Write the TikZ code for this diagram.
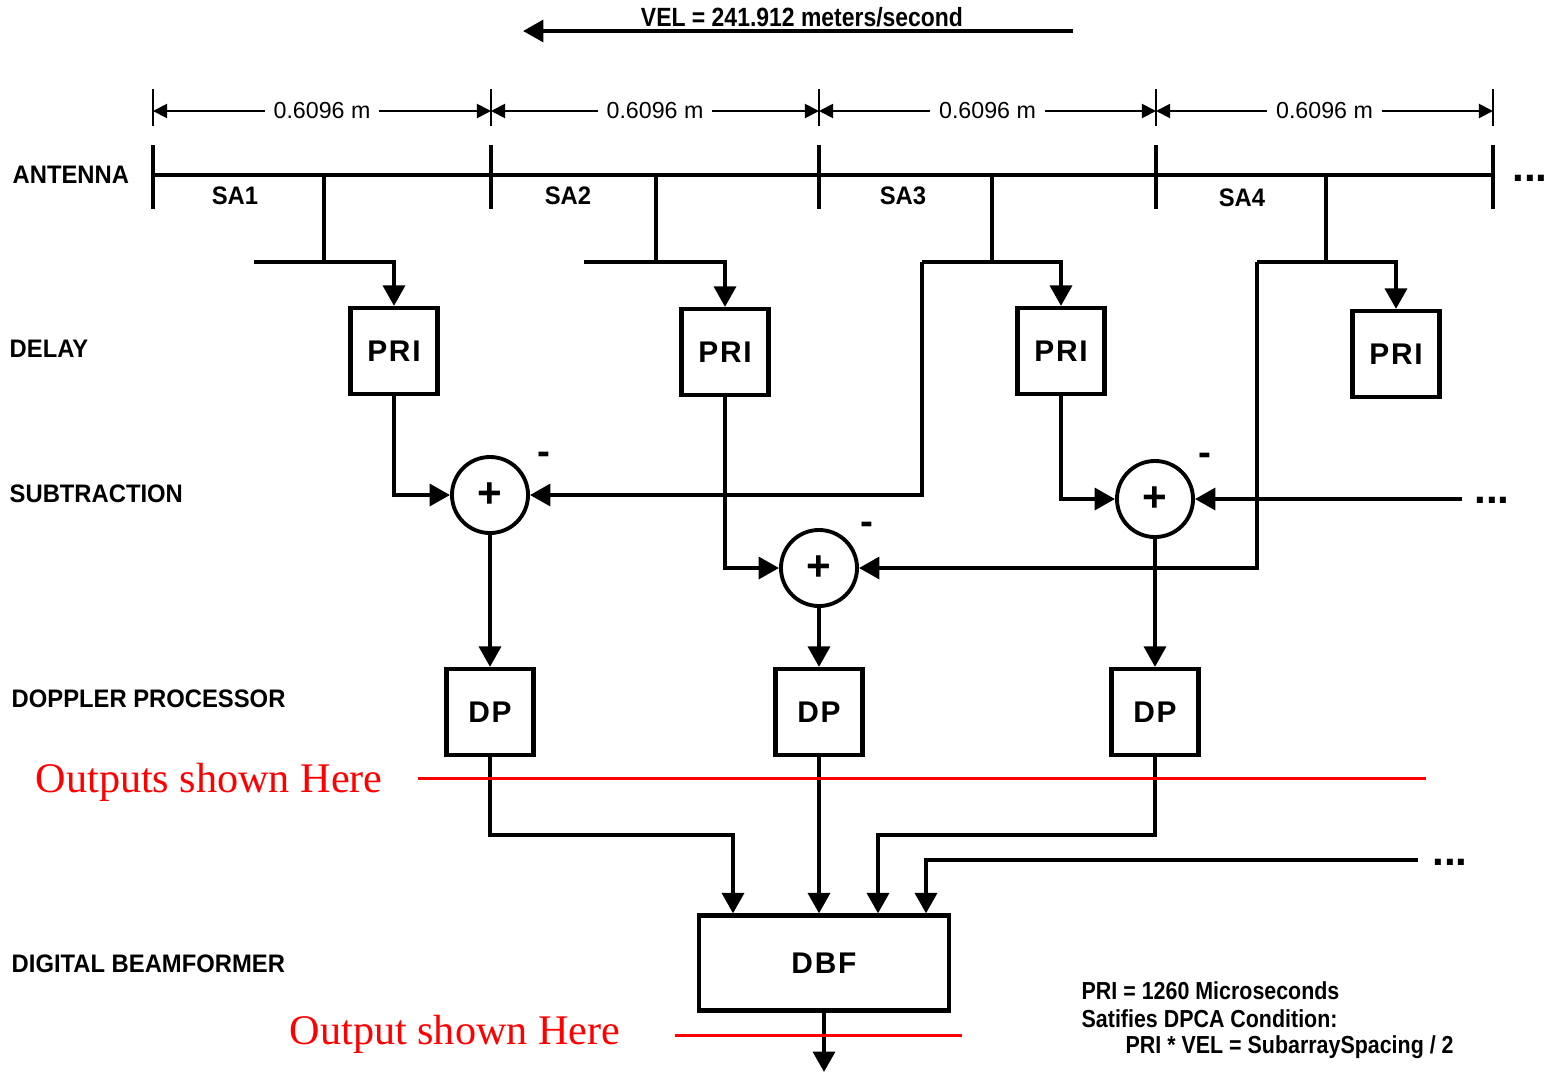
\documentclass[tikz,border=0pt]{standalone}
\usepackage{fontspec}
\setmainfont{Liberation Sans}
\newfontfamily\labelfont[FakeStretch=0.94]{Liberation Sans}
\newfontfamily\narrowfont[FakeStretch=0.87]{Liberation Sans}
\newfontfamily\notefont{Liberation Serif}
\usetikzlibrary{arrows.meta,calc}

\begin{document}
\begin{tikzpicture}[x=0.01cm, y=-0.01cm,
  wire/.style={line width=1.1pt},
  tip/.style={-{Triangle[length=5.8pt,width=6.2pt]}},
  dimline/.style={line width=0.55pt, {Triangle[length=4pt,width=4pt]}-{Triangle[length=4pt,width=4pt]}},
  blk/.style={draw, line width=1.2pt, minimum width=0.87cm, minimum height=0.86cm, inner sep=0pt,
    font=\fontsize{8.5}{10}\selectfont\bfseries\addfontfeature{LetterSpace=6}},
  sum/.style={draw, circle, line width=1.1pt, minimum size=0.76cm, inner sep=0pt,
    font=\fontsize{12}{12}\selectfont\bfseries},
  minus/.style={font=\fontsize{11}{11}\selectfont\bfseries, inner sep=0pt},
  row/.style={anchor=west, inner sep=0pt, font=\labelfont\fontsize{7.2}{8}\selectfont\bfseries},
  note/.style={anchor=west, inner sep=0pt, font=\narrowfont\fontsize{7}{8}\selectfont\bfseries},
  redtext/.style={anchor=west, inner sep=0pt, text=red, font=\notefont\fontsize{12}{14}\selectfont},
  dots/.style={font=\fontsize{12}{12}\selectfont\bfseries, inner sep=0pt}]
\useasboundingbox (0,0) rectangle (1548,1078);

\draw[wire, tip] (1073,31) -- (523,31);
\node[anchor=base, inner sep=0pt, font=\narrowfont\fontsize{7.5}{8}\selectfont\bfseries] (vel) at (802,26) {VEL = 241.912 meters/second};

\foreach \x in {153,491,819,1156,1493} \draw[line width=0.55pt] (\x,89) -- (\x,126);
\foreach \a/\b in {153/491,491/819,819/1156,1156/1493}
  \draw[dimline] (\a,111) -- (\b,111) node[midway, fill=white, inner sep=2.5pt, font=\fontsize{6.6}{8}\selectfont] {0.6096 m};

\draw[wire] (153,175) -- (1493,175);
\foreach \x in {153,491,819,1156,1493} \draw[wire] (\x,145) -- (\x,209);
\node[dots] (more1) at (1530,178) {...};

\node[row] (antenna) at (12,175) {ANTENNA};
\node[row] (delay) at (9,349) {DELAY};
\node[row] (subtr) at (9,494) {SUBTRACTION};
\node[row] (doppler) at (11,699) {DOPPLER PROCESSOR};
\node[row] (beamf) at (11,964) {DIGITAL BEAMFORMER};

\node[row, anchor=center] (sa1) at (235,196) {SA1};
\node[row, anchor=center] (sa2) at (568,196) {SA2};
\node[row, anchor=center] (sa3) at (903,196) {SA3};
\node[row, anchor=center] (sa4) at (1242,198) {SA4};

\node[blk] (pri1) at (394,351) {PRI};
\node[blk] (pri2) at (725,352) {PRI};
\node[blk] (pri3) at (1061,351) {PRI};
\node[blk] (pri4) at (1396,354) {PRI};

\node[sum] (sub1) at (490,495) {+};
\node[sum] (sub2) at (819,568) {+};
\node[sum] (sub3) at (1155,499) {+};
\node[minus] (minus1) at (544,458) {-};
\node[minus] (minus2) at (867,528) {-};
\node[minus] (minus3) at (1205,459) {-};

\node[blk] (dp1) at (490,712) {DP};
\node[blk] (dp2) at (819,712) {DP};
\node[blk] (dp3) at (1155,712) {DP};
\node[blk, minimum width=2.5cm, minimum height=0.95cm] (dbf) at (824,963) {DBF};

\coordinate (feed1) at (324,175);
\coordinate (feed2) at (656,175);
\coordinate (feed3) at (992,175);
\coordinate (feed4) at (1326,175);
\coordinate (j1) at (254,262);
\coordinate (j2) at (584,262);
\coordinate (j3) at (922,262);
\coordinate (j4) at (1257,262);
\draw[wire] (feed1) -- (feed1 |- j1);
\draw[wire] (feed2) -- (feed2 |- j2);
\draw[wire] (feed3) -- (feed3 |- j3);
\draw[wire] (feed4) -- (feed4 |- j4);
\draw[wire, tip] (j1) -| (pri1);
\draw[wire, tip] (j2) -| (pri2);
\draw[wire, tip] (j3) -| (pri3);
\draw[wire, tip] (j4) -| (pri4);

\draw[wire, tip] (pri1) |- (sub1);
\draw[wire, tip] (j3) |- (sub1);
\draw[wire, tip] (pri2) |- (sub2);
\draw[wire, tip] (j4) |- (sub2);
\draw[wire, tip] (pri3) |- (sub3);
\coordinate (in3) at (1462,499);
\draw[wire, tip] (in3) -- (sub3);
\node[dots] (more2) at (1492,500) {...};

\draw[wire, tip] (sub1) -- (dp1);
\draw[wire, tip] (sub2) -- (dp2);
\draw[wire, tip] (sub3) -- (dp3);

\coordinate (bend1) at (733,835);
\coordinate (bend3) at (878,835);
\coordinate (bend4) at (926,860);
\coordinate (in4) at (1418,860);
\draw[wire, tip] (dp1) |- (bend1) -- (bend1 |- dbf.north);
\draw[wire, tip] (dp2) -- (dp2 |- dbf.north);
\draw[wire, tip] (dp3) |- (bend3) -- (bend3 |- dbf.north);
\draw[wire, tip] (in4) -- (bend4) -- (bend4 |- dbf.north);
\node[dots] (more3) at (1450,862) {...};
\coordinate (out) at (824,1072);
\draw[wire, tip] (dbf) -- (out);

\draw[red, line width=0.85pt] (418,778) -- (1426,778);
\draw[red, line width=0.85pt] (675,1035) -- (962,1035);
\node[redtext] (outs) at (35,782) {Outputs shown Here};
\node[redtext] (outdbf) at (289,1034) {Output shown Here};

\node[note] (note1) at (1081,991) {PRI = 1260 Microseconds};
\node[note] (note2) at (1081,1019) {Satifies DPCA Condition:};
\node[note] (note3) at (1125,1047) {PRI * VEL = SubarraySpacing / 2};
\end{tikzpicture}
\end{document}
